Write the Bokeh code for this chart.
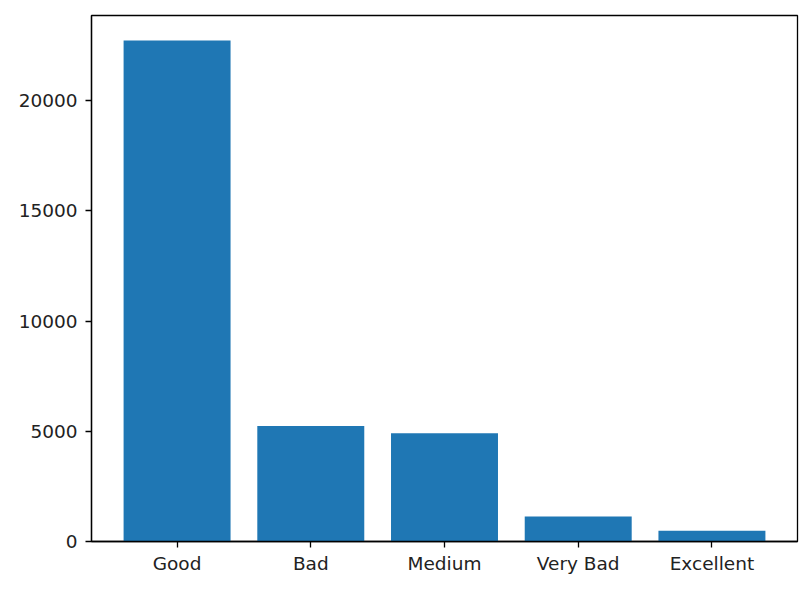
from bokeh.plotting import figure
from bokeh.models import Range1d, FixedTicker, ColumnDataSource
from bokeh.embed import file_html
from bokeh.resources import INLINE

categories = ["Good", "Bad", "Medium", "Very Bad", "Excellent"]
counts = [22720, 5240, 4905, 1130, 490]
y_ticks = [0, 5000, 10000, 15000, 20000]

xs = list(range(len(categories)))
src = ColumnDataSource(dict(x=xs, top=counts, label=categories))

p = figure(width=803, height=581, output_backend="svg", toolbar_location=None,
           x_range=Range1d(-0.64, len(categories) - 1 + 0.64),
           y_range=Range1d(0, max(counts) * 1.05),
           min_border_left=91, min_border_right=6, min_border_top=15, min_border_bottom=40)

p.vbar(x="x", top="top", width=0.8, source=src, fill_color="#1f77b4", line_color=None)

p.xgrid.visible = False
p.ygrid.visible = False
p.outline_line_color = "black"
p.outline_line_width = 1.3

p.xaxis.ticker = FixedTicker(ticks=xs)
p.xaxis.major_label_overrides = {i: c for i, c in zip(xs, categories)}
p.yaxis.ticker = FixedTicker(ticks=y_ticks)

for ax in (p.xaxis[0], p.yaxis[0]):
    ax.axis_line_color = "black"
    ax.axis_line_width = 1.3
    ax.major_tick_line_color = "black"
    ax.major_tick_line_width = 1.3
    ax.major_tick_out = 6
    ax.major_tick_in = 0
    ax.minor_tick_line_color = None
    ax.major_label_text_font = "DejaVu Sans"
    ax.major_label_text_font_size = "18.5px"
    ax.major_label_text_color = "#222222"

p.xaxis.major_label_standoff = 5
p.yaxis.major_label_standoff = 8
p.yaxis.formatter.use_scientific = False

open("out.html", "w").write(file_html(p, INLINE))
